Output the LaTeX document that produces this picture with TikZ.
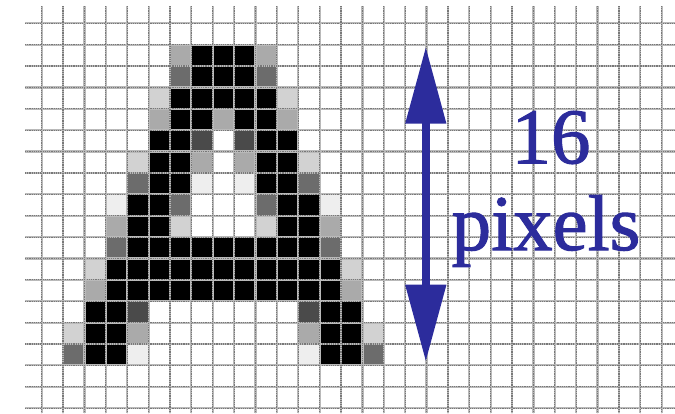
\documentclass[tikz,border=0pt]{standalone}
\usepackage{fontspec}
\setmainfont{Liberation Serif}
\newfontfamily\labelfont[FakeBold=1.3]{Liberation Serif}
\usetikzlibrary{arrows.meta}
\definecolor{pxDD}{RGB}{74,74,74}
\definecolor{pxD}{RGB}{108,108,108}
\definecolor{pxG}{RGB}{170,170,170}
\definecolor{pxL}{RGB}{210,210,210}
\definecolor{pxVL}{RGB}{238,238,238}
\definecolor{gridlight}{RGB}{185,185,185}
\definecolor{griddark}{RGB}{120,120,120}
\definecolor{inkblue}{RGB}{44,44,156}
\newcommand\pxcell[3]{\fill[#1] ({41.7+21.38*#2},{23.3+21.38*#3}) rectangle ++(21.38,21.38);}
\tikzset{
  gridbase/.style={draw=gridlight, line width=2.2pt},
  gridtex/.style={draw=griddark, line width=1.2pt, dash pattern=on 1.1pt off 1.1pt},
  label/.style={inner sep=0pt, anchor=base, text=inkblue, font=\labelfont\fontsize{79}{90}\selectfont},
  dimarrow/.style={draw=inkblue, line width=8pt, {Triangle[length=77pt,width=39pt]}-{Triangle[length=77pt,width=39pt]}}
}
\begin{document}
\begin{tikzpicture}[x=1pt,y=-1pt]
\useasboundingbox (0,0) rectangle (675,413);
\fill[white] (0,0) rectangle (675,413);
% black pixels
\foreach \c/\r in {7/1,8/1,9/1, 7/2,8/2,9/2, 6/3,7/3,8/3,9/3,10/3,
  6/4,7/4,9/4,10/4, 5/5,6/5,10/5,11/5, 5/6,6/6,10/6,11/6, 5/7,6/7,10/7,11/7,
  4/8,5/8,11/8,12/8, 4/9,5/9,11/9,12/9,
  4/10,5/10,6/10,7/10,8/10,9/10,10/10,11/10,12/10,
  3/11,4/11,5/11,6/11,7/11,8/11,9/11,10/11,11/11,12/11,13/11,
  3/12,4/12,5/12,6/12,7/12,8/12,9/12,10/12,11/12,12/12,13/12,
  2/13,3/13,13/13,14/13, 2/14,3/14,13/14,14/14, 2/15,3/15,13/15,14/15}
  {\pxcell{black}{\c}{\r}}
\foreach \c/\r in {6/1,10/1,5/4,8/4,11/4,7/6,9/6,3/9,13/9,2/12,14/12,4/14,12/14}
  {\pxcell{pxG}{\c}{\r}}
\foreach \c/\r in {6/2,10/2,4/7,12/7,6/8,10/8,3/10,13/10,1/15,15/15}
  {\pxcell{pxD}{\c}{\r}}
\foreach \c/\r in {7/5,9/5,4/13,12/13}
  {\pxcell{pxDD}{\c}{\r}}
\foreach \c/\r in {5/3,11/3,4/6,12/6,6/9,10/9,2/11,14/11,1/14,15/14}
  {\pxcell{pxL}{\c}{\r}}
\foreach \c/\r in {7/7,9/7,3/8,13/8,4/15,12/15}
  {\pxcell{pxVL}{\c}{\r}}
% grid
\foreach \j in {0,...,18} {
  \draw[gridbase] (25,{23.3+21.38*\j}) -- (675,{23.3+21.38*\j});
  \draw[gridtex] (25,{23.3+21.38*\j}) -- (675,{23.3+21.38*\j});
}
\foreach \i in {0,...,29} {
  \draw[gridbase] ({41.7+21.38*\i},6) -- ({41.7+21.38*\i},413);
  \draw[gridtex] ({41.7+21.38*\i},6) -- ({41.7+21.38*\i},413);
}
% dimension arrow
\coordinate (top) at (425.8,46.7);
\coordinate (bot) at (425.8,361.7);
\draw[dimarrow] (top) -- (bot);
% labels
\node[label] (num) at (551,163.3) {16};
\node[label] (word) at (546,250) {pixels};
\end{tikzpicture}
\end{document}
